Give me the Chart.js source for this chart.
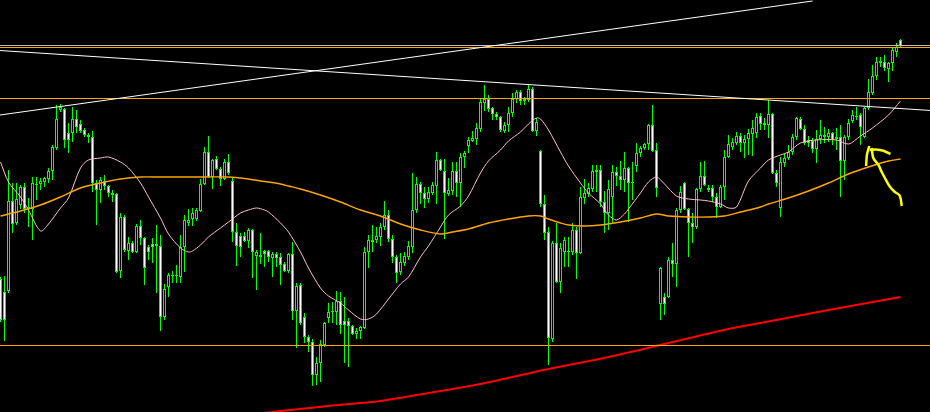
<!DOCTYPE html>
<html>
<head>
<meta charset="utf-8">
<script src="https://cdn.jsdelivr.net/npm/chart.js@4.4.1/dist/chart.umd.min.js"></script>
<style>
  html, body { margin: 0; padding: 0; background: #000; overflow: hidden; }
  #wrap { width: 930px; height: 412px; }
</style>
</head>
<body>
<div id="wrap"><canvas id="chart" width="930" height="412"></canvas></div>
<script>
// candles, oldest first (price levels)
const openP = [133,120,121,211,189,207,225,203,203,227,228,230,233,241,264,302,303,279,279,293,288,282,277,275,229,222,231,226,219,218,141,195,161,169,160,186,174,165,168,166,166,95,125,137,136,135,165,189,193,193,201,228,260,235,253,243,233,250,231,180,176,176,171,182,156,157,161,161,154,158,155,148,141,158,101,127,95,75,70,37,49,67,94,100,100,111,91,91,86,78,81,84,160,170,172,175,185,197,173,155,140,149,155,165,202,228,219,213,219,226,252,241,218,221,241,229,255,266,271,273,283,309,313,304,298,295,281,287,299,313,320,311,312,323,281,261,208,180,73,169,130,160,160,160,182,159,214,218,223,240,242,210,199,215,240,236,232,244,229,246,259,264,268,287,262,108,115,115,152,148,202,229,203,189,185,223,236,222,224,215,205,225,255,265,269,276,269,273,278,279,296,289,287,298,239,204,249,254,260,275,293,283,272,271,263,273,277,275,279,275,275,251,275,291,296,297,275,304,319,336,351,350,343,349,360,372];
const highP = [135,136,242,229,229,227,229,214,235,235,234,235,244,267,307,308,304,289,305,302,292,284,279,281,232,235,237,227,222,219,199,197,175,171,188,192,175,167,174,187,177,128,139,141,147,177,197,203,204,204,233,265,276,253,256,245,253,258,235,189,179,180,184,183,162,179,162,162,160,160,159,150,159,170,129,129,99,77,73,55,72,90,109,110,121,120,115,94,87,84,86,165,177,187,185,189,211,202,177,157,159,160,171,239,235,230,225,225,230,260,253,253,234,250,250,259,261,275,281,289,314,327,317,305,300,296,290,305,319,322,322,315,327,325,294,262,217,185,171,189,169,175,175,189,185,225,233,229,247,247,247,221,232,247,245,251,260,245,250,269,266,269,288,307,269,145,119,155,169,204,226,230,204,199,224,250,251,227,227,219,227,262,277,274,280,279,277,283,292,299,299,294,312,299,242,255,259,267,278,295,295,287,276,274,282,292,285,283,280,284,287,277,293,302,305,299,305,333,347,355,355,357,350,365,369,373];
const lowP = [90,71,119,179,187,203,199,185,172,212,222,225,229,232,262,300,264,259,270,279,279,275,269,220,187,209,222,215,210,139,134,160,152,159,159,167,127,152,149,119,81,92,115,129,129,129,140,186,186,191,200,227,234,223,242,226,232,237,170,146,155,170,164,134,122,148,145,150,135,145,127,140,139,92,64,87,69,60,26,27,30,65,89,89,87,78,49,45,77,73,73,83,144,160,169,166,182,170,149,129,137,146,152,159,199,208,204,209,217,208,241,173,216,217,215,205,244,259,270,267,280,301,300,292,292,280,279,280,295,309,307,307,310,280,276,205,172,47,70,129,119,145,145,157,133,158,208,215,220,220,205,179,182,189,226,222,220,190,212,240,255,262,262,260,215,92,97,114,135,125,199,202,155,169,183,220,226,220,210,194,204,212,254,262,267,260,254,257,256,274,282,282,274,238,225,195,245,252,257,272,282,267,265,259,249,268,269,270,267,262,215,232,272,289,292,267,274,302,317,332,345,341,330,341,355,365];
const closeP = [92,92,211,188,213,225,203,205,229,228,231,234,241,265,293,305,272,272,293,285,281,277,275,229,222,232,226,219,217,140,195,162,169,160,186,174,144,160,165,168,95,123,137,136,137,165,192,192,199,202,228,260,235,252,243,233,250,239,180,166,165,171,182,160,160,155,158,155,158,154,147,141,158,101,126,89,75,70,37,49,68,89,100,101,111,87,87,86,78,81,85,160,172,172,176,185,197,173,155,139,150,156,166,202,228,219,213,220,227,252,242,219,222,241,229,255,259,272,274,284,310,313,303,298,295,282,287,299,313,320,311,313,323,281,290,208,179,74,169,130,164,172,161,182,159,215,219,224,241,242,210,199,223,240,236,232,244,229,230,259,264,268,287,261,224,144,108,152,148,202,220,203,189,185,223,236,227,224,215,205,225,255,268,270,276,269,273,279,284,295,288,287,298,239,229,250,254,260,275,294,283,269,269,263,273,277,275,279,272,273,251,275,289,297,295,285,304,320,336,350,349,344,349,362,365,366];

// moving averages, sampled at bar indexes
const fastIdx = [0,2,5,7,10,12,15,17,20,22,25,27,30,32,35,37,40,42,45,47,48,50,52,55,57,60,62,64,66,67,70,72,75,77,80,82,85,87,90,92,94,97,100,102,105,107,110,112,115,117,120,122,125,127,130,132,134,135,137,140,142,145,147,150,152,154,156,157,160,162,164,166,169,172,175,177,180,182,184,187,190,192,195,197,200,204,209,212,215,218,222,225];
const fastVal = [250,230,215,202,181,188,204,214,244,252,254,255,250,244,229,215,194,178,164,160,161,167,175,184,190,199,202,204,202,200,189,180,160,144,124,116,109,102,93,93,98,113,128,135,155,166,185,197,206,216,239,251,262,271,280,288,294,293,282,260,246,229,219,208,197,192,198,203,219,230,235,228,216,213,212,211,208,204,205,231,244,252,257,260,269,272,272,268,276,284,297,311];
const slowIdx = [0,5,10,15,20,25,30,35,40,47,57,60,62,65,67,70,72,75,80,85,90,95,100,105,110,113,117,122,127,132,135,137,140,142,146,150,155,160,164,167,172,177,181,185,190,192,197,202,207,212,217,222,225];
const slowVal = [196,201,207,215,224,229,233,235,235,235,235,234,233,231,230,228,226,223,217,210,202,196,188,182,178,180,183,189,193,196,196,193,189,187,186,187,190,194,198,196,195,195,196,200,205,208,214,221,229,238,245,251,253];
const longIdx = [66,70,82,95,107,120,137,152,167,182,190,207,225];
const longVal = [-1,1,6,11,19,28,43,55,69,83,89,102,115];

// horizontal levels and trend lines
const levels = [366.5, 364.5, 313.5, 66.5];
const trendUp = [[-1, 296.5], [203, 411]];
const trendDown = [[-1, 361.7], [233, 301.4]];

// hand drawn arrow
const arrowLeftX = [216.4, 216.6, 217.2];
const arrowLeftY = [246, 257, 266];
const arrowTopX = [217.3, 218.9, 220.7, 222.5];
const arrowTopY = [262, 262.5, 261.3, 258];
const arrowShaftX = [217.8, 218.2, 219.5, 220.3, 221.1, 222.4, 223.6, 224.7, 225.1, 225.3];
const arrowShaftY = [264, 254, 247, 240, 234, 225, 220, 217, 212, 206];

const GREEN = '#00ff00';
const levelColors = ['#c0c0c0', '#ffa500', '#ffa500', '#ffa500'];

const pts = (xs, ys) => xs.map((x, i) => ({ x, y: ys[i] }));
const pairs = arr => arr.map(p => ({ x: p[0], y: p[1] }));

function lineDs(data, color, width, order, tension) {
  return {
    type: 'line',
    data,
    borderColor: color,
    borderWidth: width,
    pointRadius: 0,
    fill: false,
    tension: tension || 0,
    order,
  };
}

const wicks = openP.map((_, i) => ({ x: i, y: [lowP[i], highP[i]] }));
const bodies = openP.map((o, i) => ({ x: i, y: [o, closeP[i]] }));

const datasets = [
  {
    type: 'bar',
    data: wicks,
    backgroundColor: GREEN,
    borderWidth: 0,
    barThickness: 1,
    grouped: false,
    inflateAmount: 0,
    order: 6,
  },
  {
    type: 'bar',
    data: bodies,
    backgroundColor: ctx => closeP[ctx.dataIndex] >= openP[ctx.dataIndex] ? '#000000' : '#ffffff',
    borderColor: GREEN,
    borderWidth: 1,
    borderSkipped: false,
    barThickness: 3,
    grouped: false,
    inflateAmount: 0,
    order: 5,
  },
  lineDs(pts(slowIdx, slowVal), '#ffa500', 1.4, 3, 0.3),
  lineDs(pts(fastIdx, fastVal), '#ffc0cb', 1, 3, 0.3),
  lineDs(pts(longIdx, longVal), '#ff0000', 2, 3, 0.3),
  lineDs(pairs(trendUp), '#ffffff', 1, 2),
  lineDs(pairs(trendDown), '#ffffff', 1, 2),
  ...levels.map((v, i) => lineDs([{ x: -1, y: v }, { x: 233, y: v }], levelColors[i], 1, 2)),
  lineDs(pts(arrowLeftX, arrowLeftY), '#ffff00', 2.5, 1, 0.2),
  lineDs(pts(arrowTopX, arrowTopY), '#ffff00', 2.5, 1, 0.2),
  lineDs(pts(arrowShaftX, arrowShaftY), '#ffff00', 2.5, 1, 0.3),
];

new Chart(document.getElementById('chart'), {
  type: 'bar',
  data: { datasets },
  options: {
    responsive: false,
    animation: false,
    events: [],
    layout: { padding: 0 },
    plugins: {
      legend: { display: false },
      tooltip: { enabled: false },
    },
    scales: {
      x: { type: 'linear', min: -0.125, max: 232.375, offset: false, display: false },
      y: { min: 0, max: 412, display: false },
    },
  },
});
</script>
</body>
</html>
